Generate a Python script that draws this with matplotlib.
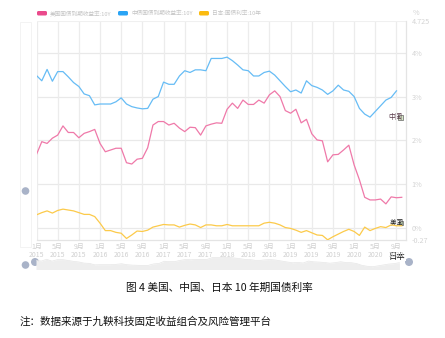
import matplotlib
matplotlib.use("Agg")
import matplotlib.pyplot as plt
from matplotlib.patches import FancyBboxPatch, Circle, Rectangle
import numpy as np

plt.rcParams['font.family'] = ['Noto Sans CJK SC', 'DejaVu Sans']

# ---- data (monthly, Jan 2015 onward) ----
us = [1.68, 1.97, 1.93, 2.05, 2.12, 2.33, 2.18, 2.18, 2.06, 2.16, 2.20, 2.25,
      1.93, 1.74, 1.78, 1.82, 1.82, 1.49, 1.46, 1.57, 1.59, 1.83, 2.35, 2.43,
      2.43, 2.35, 2.39, 2.28, 2.20, 2.30, 2.29, 2.12, 2.33, 2.37, 2.40, 2.39,
      2.71, 2.85, 2.73, 2.92, 2.82, 2.82, 2.92, 2.85, 3.04, 3.13, 3.00, 2.68,
      2.62, 2.71, 2.40, 2.48, 2.15, 2.01, 1.99, 1.51, 1.67, 1.68, 1.78, 1.89,
      1.44, 1.10, 0.70, 0.64, 0.64, 0.66, 0.55, 0.71, 0.69, 0.70]
china = [3.48, 3.36, 3.62, 3.35, 3.57, 3.57, 3.45, 3.32, 3.23, 3.06, 3.02, 2.81,
         2.83, 2.83, 2.83, 2.88, 2.97, 2.83, 2.77, 2.74, 2.72, 2.73, 2.94, 3.00,
         3.33, 3.28, 3.28, 3.47, 3.59, 3.55, 3.61, 3.61, 3.59, 3.87, 3.87, 3.87,
         3.90, 3.82, 3.72, 3.61, 3.59, 3.47, 3.47, 3.55, 3.58, 3.49, 3.36, 3.23,
         3.11, 3.15, 3.08, 3.36, 3.25, 3.21, 3.15, 3.05, 3.13, 3.26, 3.15, 3.12,
         3.00, 2.73, 2.60, 2.53, 2.66, 2.79, 2.92, 2.98, 3.13]
japan = [0.30, 0.35, 0.39, 0.34, 0.40, 0.43, 0.41, 0.39, 0.35, 0.31, 0.31, 0.26,
         0.11, -0.06, -0.06, -0.10, -0.12, -0.24, -0.16, -0.07, -0.08, -0.05, 0.02, 0.05,
         0.08, 0.07, 0.07, 0.02, 0.06, 0.09, 0.07, 0.01, 0.07, 0.07, 0.05, 0.05,
         0.08, 0.05, 0.05, 0.05, 0.05, 0.05, 0.05, 0.11, 0.13, 0.11, 0.07, 0.01,
         -0.01, -0.05, -0.10, -0.06, -0.11, -0.16, -0.17, -0.27, -0.20, -0.14, -0.08, -0.03,
         -0.08, -0.17, 0.02, -0.06, -0.01, 0.03, 0.01, 0.07, 0.05, 0.05]

series_names = ["美国国债到期收益率:10Y", "中债国债到期收益率:10Y", "日本:国债利率:10年"]
line_colors = ["#ef79a9", "#66bcf5", "#fcca4a"]
legend_colors = ["#ea4a8c", "#2aa4f5", "#fbbb10"]

years = [2015, 2016, 2017, 2018, 2019, 2020]
months = [1, 5, 9]
tick_pos = list(range(0, 69, 4))
tick_labels = [f"{months[(i // 4) % 3]}月\n{years[i // 12]}" for i in tick_pos]

y_ticks = [-0.27, 0, 1, 2, 3, 4, 4.725]
y_labels = ["-0.27", "0%", "1%", "2%", "3%", "4%", "4.725"]

W, H = 445, 338
fig = plt.figure(figsize=(W / 100, H / 100), dpi=100)

# pixel-space background axes for decorations
bg = fig.add_axes([0, 0, 1, 1])
bg.set_xlim(0, W)
bg.set_ylim(H, 0)
bg.axis('off')

# main plot axes
L, R, T, B = 36.5, 406, 21, 239.8
ax = fig.add_axes([L / W, 1 - B / H, (R - L) / W, (B - T) / H])
ax.set_facecolor('none')
x_us = np.arange(len(us))
x_cn = np.arange(len(china))
x_jp = np.arange(len(japan))

for v in [0, 1, 2, 3, 4]:
    ax.axhline(v, color='#e9e9e9', lw=0.9, zorder=0)
for p in tick_pos:
    ax.axvline(p, color='#ececec', lw=0.9, zorder=0)

ax.plot(x_cn, china, color=line_colors[1], lw=0.9, zorder=3)
ax.plot(x_us, us, color=line_colors[0], lw=0.9, zorder=3)
ax.plot(x_jp, japan, color=line_colors[2], lw=0.9, zorder=3)

ax.set_xlim(0, 69.8)
ax.set_ylim(-0.27, 4.725)
for s in ['top', 'left']:
    ax.spines[s].set_visible(False)
ax.spines['right'].set_color('#e4e4e4')
ax.spines['bottom'].set_color('#e4e4e4')
ax.spines['right'].set_linewidth(0.9)
ax.spines['bottom'].set_linewidth(0.9)
ax.axhline(4.725, color='#f0f0f0', lw=0.8, zorder=0)

ax.set_xticks(tick_pos)
ax.set_xticklabels(tick_labels, fontsize=5, color='#d0d0d0', linespacing=1.1)
ax.tick_params(axis='x', length=0, pad=2)
ax.yaxis.tick_right()
ax.set_yticks(y_ticks)
ax.set_yticklabels(y_labels, fontsize=5.2, color='#d4d4d4')
ax.tick_params(axis='y', length=0, pad=4)

# unit label
bg.text(413, 13, "%", fontsize=5.2, color='#d4d4d4', ha='left', va='center')

# legend
lx = [36, 117, 198]
for i in range(3):
    bg.add_patch(FancyBboxPatch((lx[i] + 1, 11), 10, 4.5, boxstyle="round,pad=0,rounding_size=1.5",
                                fc=legend_colors[i], ec='none'))
    bg.text(lx[i] + 14, 13.3, series_names[i], fontsize=4.1, color='#c4c4c4', ha='left', va='center')

# end labels
def tag(x, y, txt, color='#333333'):
    bg.text(x, y, txt, fontsize=5, color=color, ha='left', va='center')

tag(388.5, 117.5, "中国", '#5a3a4a')
bg.add_patch(Rectangle((398, 115), 4.5, 4.5, fc='#d6e8c8', ec='#666666', lw=0.5))
tag(389.5, 223, "美国", '#222222')
bg.add_patch(Rectangle((398.5, 220.5), 4.5, 4.5, fc='#d6e8c8', ec='#666666', lw=0.5))
bg.text(389, 256, "日本", fontsize=6, color='#111111', ha='left', va='center', zorder=10,
        bbox=dict(boxstyle='square,pad=0.05', fc='white', ec='none'))

# left vertical slider
bg.add_patch(Rectangle((20, 22), 11, 225, fc='none', ec='#f3f3f3', lw=0.7))
bg.add_patch(Circle((25.5, 191), 3.8, fc='#a9b3c8', ec='none'))

# bottom slider with mini area
sl = fig.add_axes([36 / W, 1 - 269 / H, (409 - 36) / W, 13 / H])
sl.fill_between(x_cn, 0, china, color='#eeeeee', lw=0)
sl.plot(x_cn, china, color='#e6e6e6', lw=0.5)
sl.set_xlim(0, 69.8)
sl.set_ylim(2.2, 4.1)
sl.axis('off')
bg.add_patch(Circle((35, 262), 4.0, fc='#a9b3c8', ec='none'))
bg.add_patch(Circle((409, 262), 4.0, fc='#a9b3c8', ec='none'))
bg.add_patch(Circle((25.5, 265), 3.8, fc='#a9b3c8', ec='none'))

# caption and note
bg.text(219, 288, "图 4 美国、中国、日本 10 年期国债利率", fontsize=7.7, color='#111111',
        ha='center', va='center')
bg.text(20, 321.5, "注：数据来源于九鞅科技固定收益组合及风险管理平台", fontsize=7.6, color='#111111',
        ha='left', va='center')

fig.savefig("out.png", dpi=100)
